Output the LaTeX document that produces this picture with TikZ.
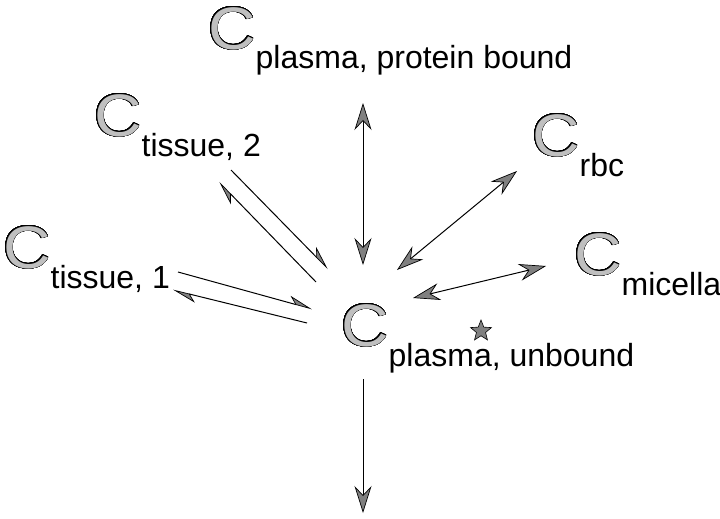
\documentclass[tikz,border=0pt]{standalone}
\usepackage{fontspec}
\setmainfont{Liberation Sans}
\usepackage{contour}
\contourlength{0.6pt}
\contournumber{32}
\usetikzlibrary{arrows.meta,shapes.geometric}

% outlined, grey-filled concentration symbol with its subscript
\newcommand{\bigC}{{\fontsize{60}{60}\selectfont\textcolor{gray!50}{\scalebox{1.1}[1]{\contour{black}{C}}}}}
\newcommand{\conc}[1]{\bigC\kern0pt\raisebox{-20pt}{\fontsize{32}{32}\selectfont #1}}

\tikzset{
  bighead/.tip={Stealth[length=27pt,width=17pt,inset=9pt,fill=gray,line width=0.7pt]},
  halfhead/.tip={Stealth[harpoon,length=23pt,width=14pt,inset=7pt,fill=gray,line width=0.7pt]},
  link/.style={line width=1pt,draw=black},
  label/.style={anchor=base west,inner sep=0pt,outer sep=0pt},
}

\begin{document}
\begin{tikzpicture}[x=1pt,y=-1pt]
\useasboundingbox (0,0) rectangle (720,519);

% compartments
\node[label] (ppb) at (208,49)  {\conc{plasma, protein bound}};
\node[label] (t2)  at (94,136)  {\conc{tissue, 2}};
\node[label] (t1)  at (3,268)   {\conc{tissue, 1}};
\node[label] (rbc) at (532,156) {\conc{rbc}};
\node[label] (mic) at (574,275) {\conc{micella}};
\node[label] (pu)  at (341,346) {\conc{plasma, unbound}};

% connector end points
\coordinate (v1) at (363,103);  \coordinate (v2) at (363,265);
\coordinate (d1) at (363,379);  \coordinate (d2) at (363,513);
\coordinate (r1) at (397,270);  \coordinate (r2) at (517,171);
\coordinate (m1) at (413,298);  \coordinate (m2) at (546,266);
\coordinate (ta1) at (231,170); \coordinate (ta2) at (328,269);
\coordinate (tb1) at (316,282); \coordinate (tb2) at (219,182);
\coordinate (sa1) at (178,272); \coordinate (sa2) at (312,309);
\coordinate (sb1) at (307,323); \coordinate (sb2) at (173,290);

% exchanges with plasma
\draw[link,{bighead}-{bighead}] (v1) -- (v2);
\draw[link,-{bighead}] (d1) -- (d2);
\draw[link,{bighead}-{bighead}] (r1) -- (r2);
\draw[link,{bighead}-{bighead}] (m1) -- (m2);
\draw[link,-{halfhead}] (ta1) -- (ta2);
\draw[link,-{halfhead}] (tb1) -- (tb2);
\draw[link,-{halfhead}] (sa1) -- (sa2);
\draw[link,-{halfhead}] (sb1) -- (sb2);

% marker on the micelle exchange
\node[star,star points=5,star point ratio=2.3,minimum size=22pt,inner sep=0pt,
      fill=gray,draw=black,line width=0.6pt] (st) at (481,331) {};
\end{tikzpicture}
\end{document}
